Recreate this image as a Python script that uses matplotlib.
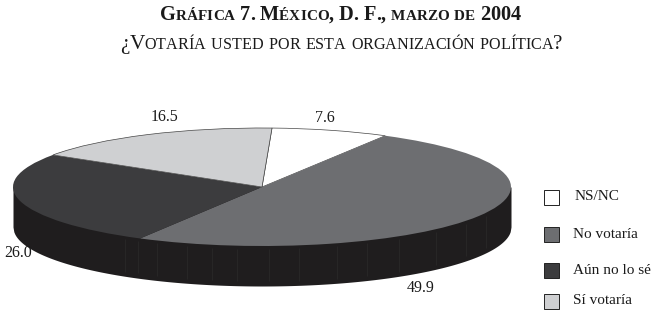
#!/usr/bin/env python3
# -*- coding: utf-8 -*-
import numpy as np
import matplotlib
matplotlib.use("Agg")
import matplotlib.pyplot as plt
from matplotlib.patches import Rectangle

#the data, clockwise from the top
categories = ["NS/NC", "No votaría", "Aún no lo sé", "Sí votaría"]
values = [7.6, 49.9, 26.0, 16.5]
value_labels = ["7.6", "49.9", "26.0", "16.5"]

#the styling
colors = ["#ffffff", "#6d6e71", "#3c3c3e", "#cfd0d2"]
side_color = "#1f1d1e"
streak_color = "#2e2e2e"
text_color = "#1a1a1a"
font = "Liberation Serif"

W, H = 656, 315


def small_caps(ax, fig, text, x, y, big, small, weight="normal"):
    '''draws text as small caps from x (pixels), capitals big and the rest small'''
    rend = fig.canvas.get_renderer()
    for ch in text:
        size = small if ch.islower() else big
        t = ax.text(x, y, ch.upper(), fontsize=size, family=font, fontweight=weight,
                    color=text_color, ha="left", va="baseline")
        x += t.get_window_extent(rend).width if ch != " " else size * 0.35
    return x


def main():
    fig = plt.figure(figsize=(W / 100, H / 100), dpi=100)

    #pie axes, radius 1 stretched over the top ellipse
    left, right, top, bottom = 13, 511, 128, 246
    depth = 40 / ((bottom - top) / 2)
    ax = fig.add_axes([left / W, 1 - bottom / H, (right - left) / W, (bottom - top) / H])
    ax.set_axis_off()

    #side of the disc first
    xs = np.linspace(-1, 1, 600)
    ax.fill_between(xs, -np.sqrt(1 - xs ** 2) - depth, 0, color=side_color, lw=0, clip_on=False)
    streaks = np.array([-0.55, -0.5, -0.42, -0.3, -0.2, -0.1, 0.03, 0.15, 0.3, 0.42, 0.55, 0.7, 0.82, 0.9])
    ax.vlines(streaks, -np.sqrt(1 - streaks ** 2) - 0.6, -np.sqrt(1 - streaks ** 2) - 0.05,
              color=streak_color, lw=0.4, clip_on=False)

    wedges, _ = ax.pie(values, colors=colors, startangle=87.7, counterclock=False, radius=1)
    for w in wedges:
        w.set_clip_on(False)
    for i in [0, 3]:
        wedges[i].set_edgecolor("#444444")
        wedges[i].set_linewidth(0.5)
    ax.set_aspect("auto")
    ax.set_xlim(-1, 1)
    ax.set_ylim(-1, 1)

    #overlay in pixels for the texts
    over = fig.add_axes([0, 0, 1, 1], facecolor="none")
    over.set_xlim(0, W)
    over.set_ylim(H, 0)
    over.set_axis_off()

    fig.canvas.draw()
    small_caps(over, fig, "Gráfica 7. México, D. F., marzo de 2004", 160, 20, 14.7, 10.9, "bold")
    small_caps(over, fig, "¿Votaría usted por esta organización política?", 120, 49, 15.3, 11.6)

    #value labels
    label_pos = [(325, 118), (421, 288), (18, 253), (165, 117)]
    for lab, (x, y) in zip(value_labels, label_pos):
        over.text(x, y, lab, fontsize=11.5, family=font, color=text_color, ha="center", va="center")

    #legend
    legend_y = [197, 234, 270, 301]
    legend_x = [575, 573, 573, 573]
    for name, col, y, x in zip(categories, colors, legend_y, legend_x):
        over.add_patch(Rectangle((543.5, y - 7.5), 15, 15, facecolor=col, edgecolor="#222222", lw=0.7))
        over.text(x, y, name, fontsize=11, family=font, color=text_color, ha="left", va="center")

    fig.savefig("out.png", dpi=100)


if __name__ == "__main__":
    main()
